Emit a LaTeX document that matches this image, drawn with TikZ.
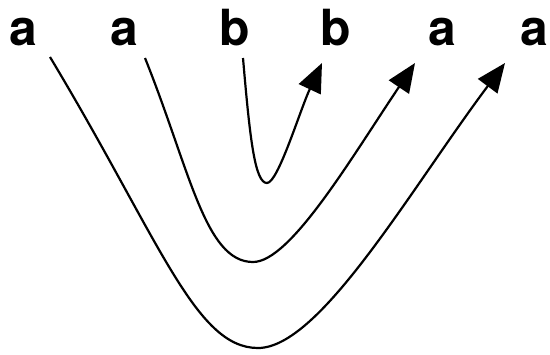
\documentclass[tikz,border=0pt]{standalone}
\usepackage{fontspec}
\setmainfont{TeX Gyre Heros}
\usetikzlibrary{arrows.meta, positioning, calc}

\begin{document}
\begin{tikzpicture}[
  x=1bp, y=-1bp,
  >={Triangle[length=29bp, width=24bp]},
  sym/.style={anchor=base, inner sep=0pt, font=\fontsize{50}{60}\selectfont\bfseries},
  link/.style={draw, line width=2.2bp, ->}
  ]
  \useasboundingbox (0,0) rectangle (550,354);
  \node[sym] (a1) at ( 23,45) {a};
  \node[sym] (a2) at (124,45) {a};
  \node[sym] (b1) at (235,45) {b};
  \node[sym] (b2) at (336,45) {b};
  \node[sym] (a3) at (442,45) {a};
  \node[sym] (a4) at (534,45) {a};
  \coordinate (low1) at (258,348);
  \coordinate (low2) at (253,262);
  \coordinate (low3) at (267,183);
  % nested pairs
  \draw[link] ([shift={(27,12)}]a1.base) .. controls (160,240) and (195,348) .. (low1)
    .. controls (320,348) and (410,190) .. ([shift={(-29,18)}]a4.base);
  \draw[link] ([shift={(21,13)}]a2.base) .. controls (190,170) and (205,262) .. (low2)
    .. controls (290,262) and (350,160) .. ([shift={(-27,18)}]a3.base);
  \draw[link] ([shift={(8,13)}]b1.base) .. controls (250,140) and (255,183) .. (low3)
    .. controls (278,183) and (300,110) .. ([shift={(-14,18)}]b2.base);
\end{tikzpicture}
\end{document}
